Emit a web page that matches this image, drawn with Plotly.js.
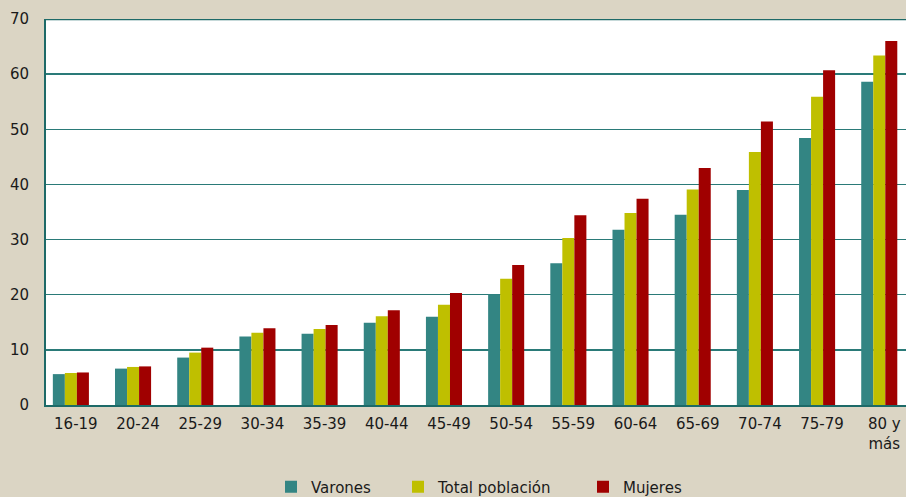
<!DOCTYPE html>
<html>
<head>
<meta charset="utf-8">
<script src="https://cdn.plot.ly/plotly-3.0.1.min.js"></script>
<style>html,body{margin:0;padding:0;background:#dbd5c4;}</style>
</head>
<body>
<div id="chart" style="width:906px;height:497px;"></div>
<script>
const categories = ["16-19","20-24","25-29","30-34","35-39","40-44","45-49","50-54","55-59","60-64","65-69","70-74","75-79","80 y<br>más"];
const varones = [5.6, 6.6, 8.6, 12.4, 12.9, 14.9, 16.0, 20.1, 25.7, 31.8, 34.5, 39.0, 48.4, 58.6];
const total   = [5.8, 6.9, 9.5, 13.1, 13.8, 16.1, 18.2, 22.9, 30.3, 34.8, 39.1, 45.9, 55.9, 63.4];
const mujeres = [5.9, 7.0, 10.4, 13.9, 14.5, 17.2, 20.3, 25.4, 34.4, 37.4, 43.0, 51.4, 60.7, 66.0];
const seriesNames = ["Varones", "Total población", "Mujeres"];
const colors = ["#338583", "#bfbf00", "#a00000"];
const legendIds = ["legend", "legend2", "legend3"];
const legendX = [271, 398, 583];
const yTicks = [0,10,20,30,40,50,60,70];

const data = [varones, total, mujeres].map((vals, i) => ({
  type: 'bar',
  name: seriesNames[i],
  x: categories,
  y: vals,
  legend: legendIds[i],
  marker: {color: colors[i], line: {width: 0}},
  hoverinfo: 'x+y'
}));

function legendAt(px) {
  return {
    orientation: 'h', xref: 'container', yref: 'container',
    x: px / 906, xanchor: 'left', y: 1 - 487 / 497, yanchor: 'middle',
    font: {size: 15, color: '#1a1a1a'}, bgcolor: 'rgba(0,0,0,0)', itemwidth: 30
  };
}

const layout = {
  width: 906, height: 497,
  paper_bgcolor: '#dbd5c4',
  plot_bgcolor: '#ffffff',
  margin: {l: 46, r: 0, t: 19, b: 92, autoexpand: false},
  font: {family: 'DejaVu Sans, sans-serif', size: 15, color: '#1a1a1a'},
  barmode: 'group',
  bargap: 0.42,
  bargroupgap: 0,
  showlegend: true,
  legend: legendAt(legendX[0]),
  legend2: legendAt(legendX[1]),
  legend3: legendAt(legendX[2]),
  xaxis: {
    type: 'category',
    range: [-0.4, 13.43],
    automargin: false,
    showgrid: false,
    showline: true, linecolor: '#1d6a68', linewidth: 2,
    ticks: '', ticklabelshift: 5, ticklabelstandoff: 4,
    tickfont: {size: 15},
    fixedrange: true
  },
  yaxis: {
    range: [0, 70],
    automargin: false,
    tickvals: yTicks,
    showgrid: true, gridcolor: '#2a7a78', gridwidth: 1.5,
    showline: true, linecolor: '#1d6a68', linewidth: 2,
    zeroline: false,
    ticks: '', ticklabelstandoff: 12,
    tickfont: {size: 15},
    fixedrange: true
  },
  shapes: [
    {type: 'line', xref: 'paper', yref: 'y', x0: 0, x1: 1, y0: 70, y1: 70, line: {color: '#1d6a68', width: 2.5}}
  ]
};

Plotly.newPlot('chart', data, layout, {displayModeBar: false, staticPlot: true});
</script>
</body>
</html>
